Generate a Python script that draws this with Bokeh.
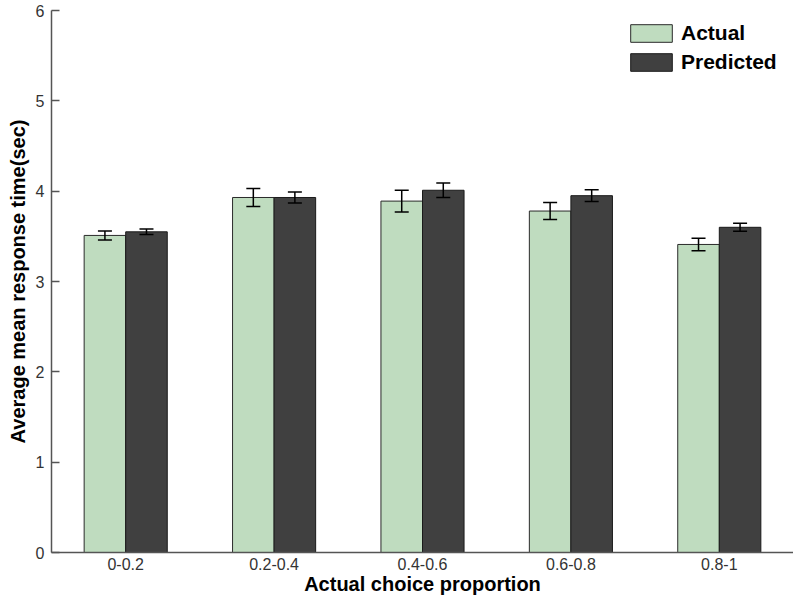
from bokeh.plotting import figure
from bokeh.models import ColumnDataSource, FactorRange, Range1d, Whisker, Legend, LegendItem, FixedTicker
from bokeh.transform import dodge
from bokeh.embed import file_html
from bokeh.resources import INLINE

categories = ["0-0.2", "0.2-0.4", "0.4-0.6", "0.6-0.8", "0.8-1"]
actual = [3.51, 3.93, 3.89, 3.78, 3.41]
actual_err = [0.05, 0.10, 0.12, 0.095, 0.07]
predicted = [3.55, 3.93, 4.01, 3.95, 3.60]
predicted_err = [0.03, 0.06, 0.08, 0.065, 0.045]

src = ColumnDataSource(dict(
    cat=categories,
    actual=actual,
    a_lo=[v - e for v, e in zip(actual, actual_err)],
    a_hi=[v + e for v, e in zip(actual, actual_err)],
    predicted=predicted,
    p_lo=[v - e for v, e in zip(predicted, predicted_err)],
    p_hi=[v + e for v, e in zip(predicted, predicted_err)],
))

FONT = "Liberation Sans"

p = figure(width=793, height=598, output_backend="svg", toolbar_location=None,
           x_range=FactorRange(*categories, range_padding=0), y_range=Range1d(0, 6),
           min_border_left=51, min_border_right=0, min_border_top=10, min_border_bottom=46)
p.outline_line_color = None
p.grid.grid_line_color = None

ra = p.vbar(x=dodge("cat", -0.14, range=p.x_range), top="actual", width=0.28, source=src,
            fill_color="#bfdcbf", line_color="#2a2a2a", line_width=1)
rp = p.vbar(x=dodge("cat", 0.14, range=p.x_range), top="predicted", width=0.28, source=src,
            fill_color="#404040", line_color="#1a1a1a", line_width=1)

for xoff, lo, hi in [(-0.14, "a_lo", "a_hi"), (0.14, "p_lo", "p_hi")]:
    w = Whisker(base=dodge("cat", xoff, range=p.x_range), lower=lo, upper=hi, source=src,
                line_color="black", line_width=1.5, level="overlay")
    for h in (w.upper_head, w.lower_head):
        h.size = 14
        h.line_width = 1.5
        h.line_color = "black"
    p.add_layout(w)

# y axis
p.yaxis.ticker = FixedTicker(ticks=[0, 1, 2, 3, 4, 5, 6])
p.yaxis.major_tick_in = 8
p.yaxis.major_tick_out = 0
p.yaxis.minor_tick_in = 0
p.yaxis.minor_tick_out = 0
p.yaxis.axis_line_color = "#555555"
p.yaxis.axis_line_width = 1.5
p.yaxis.major_tick_line_color = "#555555"
p.yaxis.major_tick_line_width = 1.5
p.yaxis.major_label_text_font = FONT
p.yaxis.major_label_text_font_size = "16px"
p.yaxis.major_label_text_color = "#333333"
p.yaxis.major_label_standoff = 7
p.yaxis.axis_label = "Average mean response time(sec)"
p.yaxis.axis_label_text_font = FONT
p.yaxis.axis_label_text_font_size = "20px"
p.yaxis.axis_label_text_font_style = "bold"
p.yaxis.axis_label_text_color = "black"
p.yaxis.axis_label_standoff = 4

# x axis
p.xaxis.major_tick_in = 0
p.xaxis.major_tick_out = 0
p.xaxis.axis_line_color = "#555555"
p.xaxis.axis_line_width = 1.5
p.xaxis.major_label_text_font = FONT
p.xaxis.major_label_text_font_size = "16px"
p.xaxis.major_label_text_color = "#333333"
p.xaxis.major_label_standoff = 5
p.xaxis.axis_label = "Actual choice proportion"
p.xaxis.axis_label_text_font = FONT
p.xaxis.axis_label_text_font_size = "20px"
p.xaxis.axis_label_text_font_style = "bold"
p.xaxis.axis_label_text_color = "black"
p.xaxis.axis_label_standoff = 0

legend = Legend(items=[LegendItem(label="Actual", renderers=[ra]),
                       LegendItem(label="Predicted", renderers=[rp])],
                location=(574, 478), padding=0, margin=0, spacing=5,
                glyph_width=52, glyph_height=22, label_standoff=4,
                label_text_font=FONT, label_text_font_size="21px",
                label_text_font_style="bold", label_text_color="black",
                label_height=22,
                border_line_color=None, background_fill_alpha=0)
p.add_layout(legend)

open("out.html", "w").write(file_html(p, INLINE))
